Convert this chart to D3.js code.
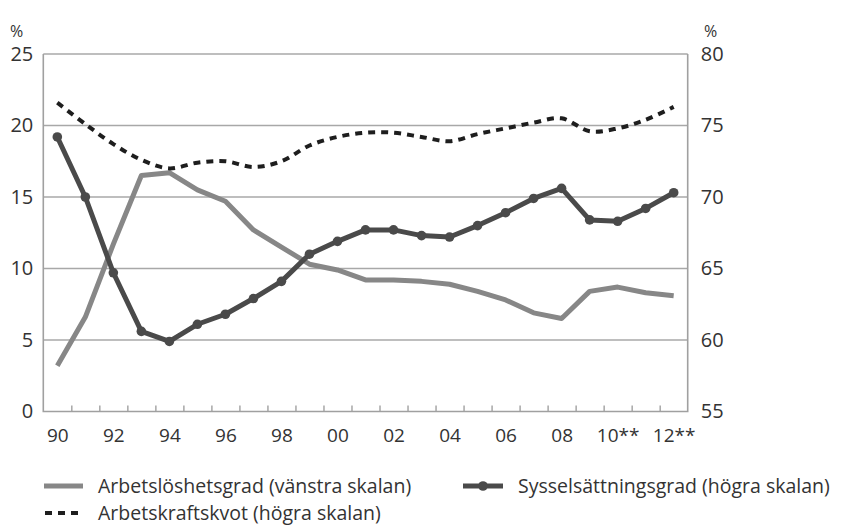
<!DOCTYPE html>
<html>
<head>
<meta charset="utf-8">
<script src="https://cdn.jsdelivr.net/npm/d3@7"></script>
<style>
  body { margin: 0; background: #fff; }
  text { font-family: "Open Sans", Lato, sans-serif; fill: #333; }
</style>
</head>
<body>
<div id="chart"></div>
<script>
// years on the x axis
var years = [1990, 1991, 1992, 1993, 1994, 1995, 1996, 1997, 1998, 1999, 2000, 2001,
  2002, 2003, 2004, 2005, 2006, 2007, 2008, 2009, 2010, 2011, 2012];
var tickYears = [1990, 1992, 1994, 1996, 1998, 2000, 2002, 2004, 2006, 2008, 2010, 2012];
var tickLabels = ["90", "92", "94", "96", "98", "00", "02", "04", "06", "08", "10**", "12**"];

// left scale
var arbetsloshet = [3.2, 6.6, 11.7, 16.5, 16.7, 15.5, 14.7, 12.7, 11.5, 10.3, 9.9, 9.2,
  9.2, 9.1, 8.9, 8.4, 7.8, 6.9, 6.5, 8.4, 8.7, 8.3, 8.1];
// right scale
var sysselsattning = [74.2, 70.0, 64.7, 60.6, 59.9, 61.1, 61.8, 62.9, 64.1, 66.0, 66.9, 67.7,
  67.7, 67.3, 67.2, 68.0, 68.9, 69.9, 70.6, 68.4, 68.3, 69.2, 70.3];
var arbetskraft = [76.6, 75.1, 73.7, 72.6, 72.0, 72.4, 72.5, 72.1, 72.5, 73.6, 74.2, 74.5,
  74.5, 74.2, 73.9, 74.4, 74.8, 75.2, 75.5, 74.6, 74.8, 75.4, 76.3];

var leftTicks = [0, 5, 10, 15, 20, 25];
var rightTicks = [55, 60, 65, 70, 75, 80];

var width = 851, height = 527;
var pLeft = 43.3, pRight = 687.7, pTop = 54, pBottom = 411.5;
var font = "'Open Sans', Lato, sans-serif";

var svg = d3.select("#chart").append("svg")
  .attr("width", width)
  .attr("height", height);

var x = d3.scalePoint().domain(years).range([pLeft, pRight]).padding(0.5);
var xEdge = d3.scaleLinear().domain([0, years.length]).range([pLeft, pRight]);
var yL = d3.scaleLinear().domain([0, 25]).range([pBottom, pTop]);
var yR = d3.scaleLinear().domain([55, 80]).range([pBottom, pTop]);

// gridlines
svg.append("g")
  .selectAll("line")
  .data(leftTicks.slice(1))
  .join("line")
  .attr("x1", pLeft).attr("x2", pRight)
  .attr("y1", d => yL(d)).attr("y2", d => yL(d))
  .attr("stroke", "#a8a8a8")
  .attr("stroke-width", 1.6);

// frame: left, right, bottom
svg.append("path")
  .attr("d", "M" + pLeft + "," + pTop + "V" + pBottom + "H" + pRight + "V" + pTop)
  .attr("fill", "none")
  .attr("stroke", "#a0a0a0")
  .attr("stroke-width", 1.6);

// inner ticks on x axis
svg.append("g")
  .attr("transform", "translate(0," + pBottom + ")")
  .call(d3.axisBottom(xEdge).tickValues(d3.range(1, years.length)).tickSize(-6).tickFormat(""))
  .call(g => g.select(".domain").remove())
  .call(g => g.selectAll("line").attr("stroke", "#a0a0a0").attr("stroke-width", 1.4));

// x labels
svg.append("g")
  .attr("transform", "translate(0," + pBottom + ")")
  .call(d3.axisBottom(x).tickValues(tickYears).tickSize(0)
    .tickFormat(d => tickLabels[tickYears.indexOf(d)]))
  .call(g => g.select(".domain").remove())
  .call(g => g.selectAll("text").attr("dy", "1.45em").attr("font-size", 19)
    .style("fill", "#333").style("font-family", font));

// left y labels
svg.append("g")
  .attr("transform", "translate(" + pLeft + ",0)")
  .call(d3.axisLeft(yL).tickValues(leftTicks).tickSize(0).tickPadding(10))
  .call(g => g.select(".domain").remove())
  .call(g => g.selectAll("text").attr("font-size", 20)
    .style("fill", "#333").style("font-family", font));

// right y labels
svg.append("g")
  .attr("transform", "translate(" + pRight + ",0)")
  .call(d3.axisRight(yR).tickValues(rightTicks).tickSize(0).tickPadding(13))
  .call(g => g.select(".domain").remove())
  .call(g => g.selectAll("text").attr("font-size", 20)
    .style("fill", "#333").style("font-family", font));

svg.append("text").attr("x", 10).attr("y", 37).attr("font-size", 16).text("%");
svg.append("text").attr("x", 704).attr("y", 37).attr("font-size", 16).text("%");

// series
var lineL = d3.line().x((d, i) => x(years[i])).y(d => yL(d));
var lineR = d3.line().x((d, i) => x(years[i])).y(d => yR(d));
var lineRsmooth = d3.line().x((d, i) => x(years[i])).y(d => yR(d)).curve(d3.curveCatmullRom.alpha(0.5));

svg.append("path")
  .datum(arbetsloshet)
  .attr("d", lineL)
  .attr("fill", "none")
  .attr("stroke", "#878787")
  .attr("stroke-width", 5)
  .attr("stroke-linejoin", "round");

svg.append("path")
  .datum(arbetskraft)
  .attr("d", lineRsmooth)
  .attr("fill", "none")
  .attr("stroke", "#1e1e1e")
  .attr("stroke-width", 4)
  .attr("stroke-dasharray", "7,6");

svg.append("path")
  .datum(sysselsattning)
  .attr("d", lineR)
  .attr("fill", "none")
  .attr("stroke", "#4a4a4a")
  .attr("stroke-width", 5)
  .attr("stroke-linejoin", "round");

svg.append("g")
  .selectAll("circle")
  .data(sysselsattning)
  .join("circle")
  .attr("cx", (d, i) => x(years[i]))
  .attr("cy", d => yR(d))
  .attr("r", 4.8)
  .attr("fill", "#4a4a4a");

// legend
var leg = svg.append("g");
leg.append("line").attr("x1", 44).attr("x2", 83).attr("y1", 486).attr("y2", 486)
  .attr("stroke", "#878787").attr("stroke-width", 5);
leg.append("text").attr("x", 98).attr("y", 486).attr("dy", "0.35em").attr("font-size", 19.5)
  .text("Arbetslöshetsgrad (vänstra skalan)");

leg.append("line").attr("x1", 463).attr("x2", 503).attr("y1", 486).attr("y2", 486)
  .attr("stroke", "#4a4a4a").attr("stroke-width", 5);
leg.append("circle").attr("cx", 483).attr("cy", 486).attr("r", 4.8).attr("fill", "#4a4a4a");
leg.append("text").attr("x", 518).attr("y", 486).attr("dy", "0.35em").attr("font-size", 19.5)
  .text("Sysselsättningsgrad (högra skalan)");

leg.append("line").attr("x1", 45).attr("x2", 83).attr("y1", 513).attr("y2", 513)
  .attr("stroke", "#1e1e1e").attr("stroke-width", 4).attr("stroke-dasharray", "7,6");
leg.append("text").attr("x", 98).attr("y", 513).attr("dy", "0.35em").attr("font-size", 19.5)
  .text("Arbetskraftskvot (högra skalan)");
</script>
</body>
</html>
